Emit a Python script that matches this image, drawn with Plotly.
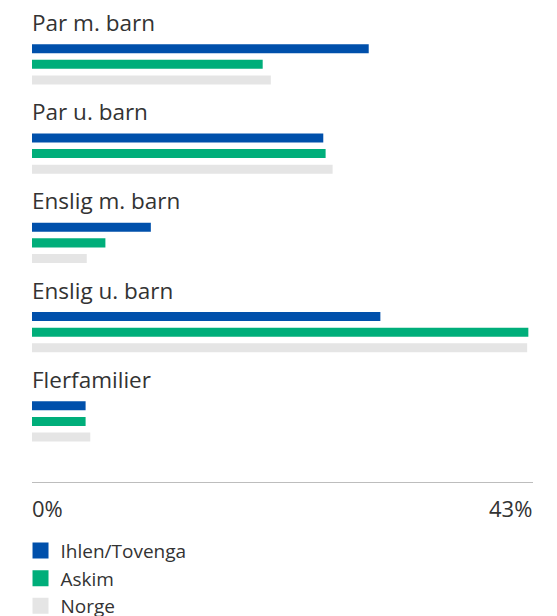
import plotly.graph_objects as go

categories = ["Par m. barn", "Par u. barn", "Enslig m. barn", "Enslig u. barn", "Flerfamilier"]
series_names = ["Ihlen/Tovenga", "Askim", "Norge"]
ihlen_tovenga = [28.9, 25.0, 10.2, 29.9, 4.6]
askim = [19.8, 25.2, 6.3, 42.6, 4.6]
norge = [20.5, 25.8, 4.7, 42.5, 5.0]
series_values = [ihlen_tovenga, askim, norge]
colors = ["#0050AB", "#00AE7A", "#E5E5E5"]
x_max = 43
tick_values = [0, 43]
tick_labels = ["0%", "43%"]

FONT = "Open Sans"
TEXT = "#333333"

fig = go.Figure()
for name, vals, col in zip(series_names, series_values, colors):
    fig.add_trace(go.Bar(
        y=categories, x=vals, name=name, orientation="h",
        marker=dict(color=col, line=dict(width=0)),
        showlegend=False, hoverinfo="x+name",
    ))
# legend entries as square markers
for name, col in zip(series_names, colors):
    fig.add_trace(go.Scatter(
        x=[None], y=[None], mode="markers", name=name,
        marker=dict(symbol="square", size=16, color=col),
        showlegend=True,
    ))

annotations = []
for i, cat in enumerate(categories):
    annotations.append(dict(
        x=0, y=i, xref="x", yref="y", text=cat, showarrow=False,
        xanchor="left", yanchor="middle", yshift=42, xshift=-2,
        font=dict(family=FONT, size=22.5, color=TEXT),
    ))
for tv, tl in zip(tick_values, tick_labels):
    annotations.append(dict(
        x=tv, y=0, xref="x", yref="paper", text=tl, showarrow=False,
        xanchor="left" if tv == 0 else "right", yanchor="middle", yshift=-26,
        xshift=-2 if tv == 0 else 1,
        font=dict(family=FONT, size=22, color=TEXT),
    ))

fig.update_layout(
    width=549, height=608,
    margin=dict(l=24, r=24, t=2, b=134, autoexpand=False),
    paper_bgcolor="white", plot_bgcolor="white",
    barmode="group", bargap=0.4753, bargroupgap=0.423,
    font=dict(family=FONT, color=TEXT),
    xaxis=dict(range=[0, x_max], showgrid=False, zeroline=False,
               showticklabels=False, ticks="",
               showline=True, linecolor="#BDBDBD", linewidth=1),
    yaxis=dict(range=[4.679, -0.609], showgrid=False, zeroline=False,
               showticklabels=False, ticks="", showline=False),
    legend=dict(xref="container", yref="container", x=0.0228, y=0.1388,
                xanchor="left", yanchor="top", bgcolor="rgba(0,0,0,0)",
                font=dict(family=FONT, size=19, color=TEXT),
                itemclick=False, itemdoubleclick=False),
    annotations=annotations,
    showlegend=True,
)

fig.write_html("out.html")
